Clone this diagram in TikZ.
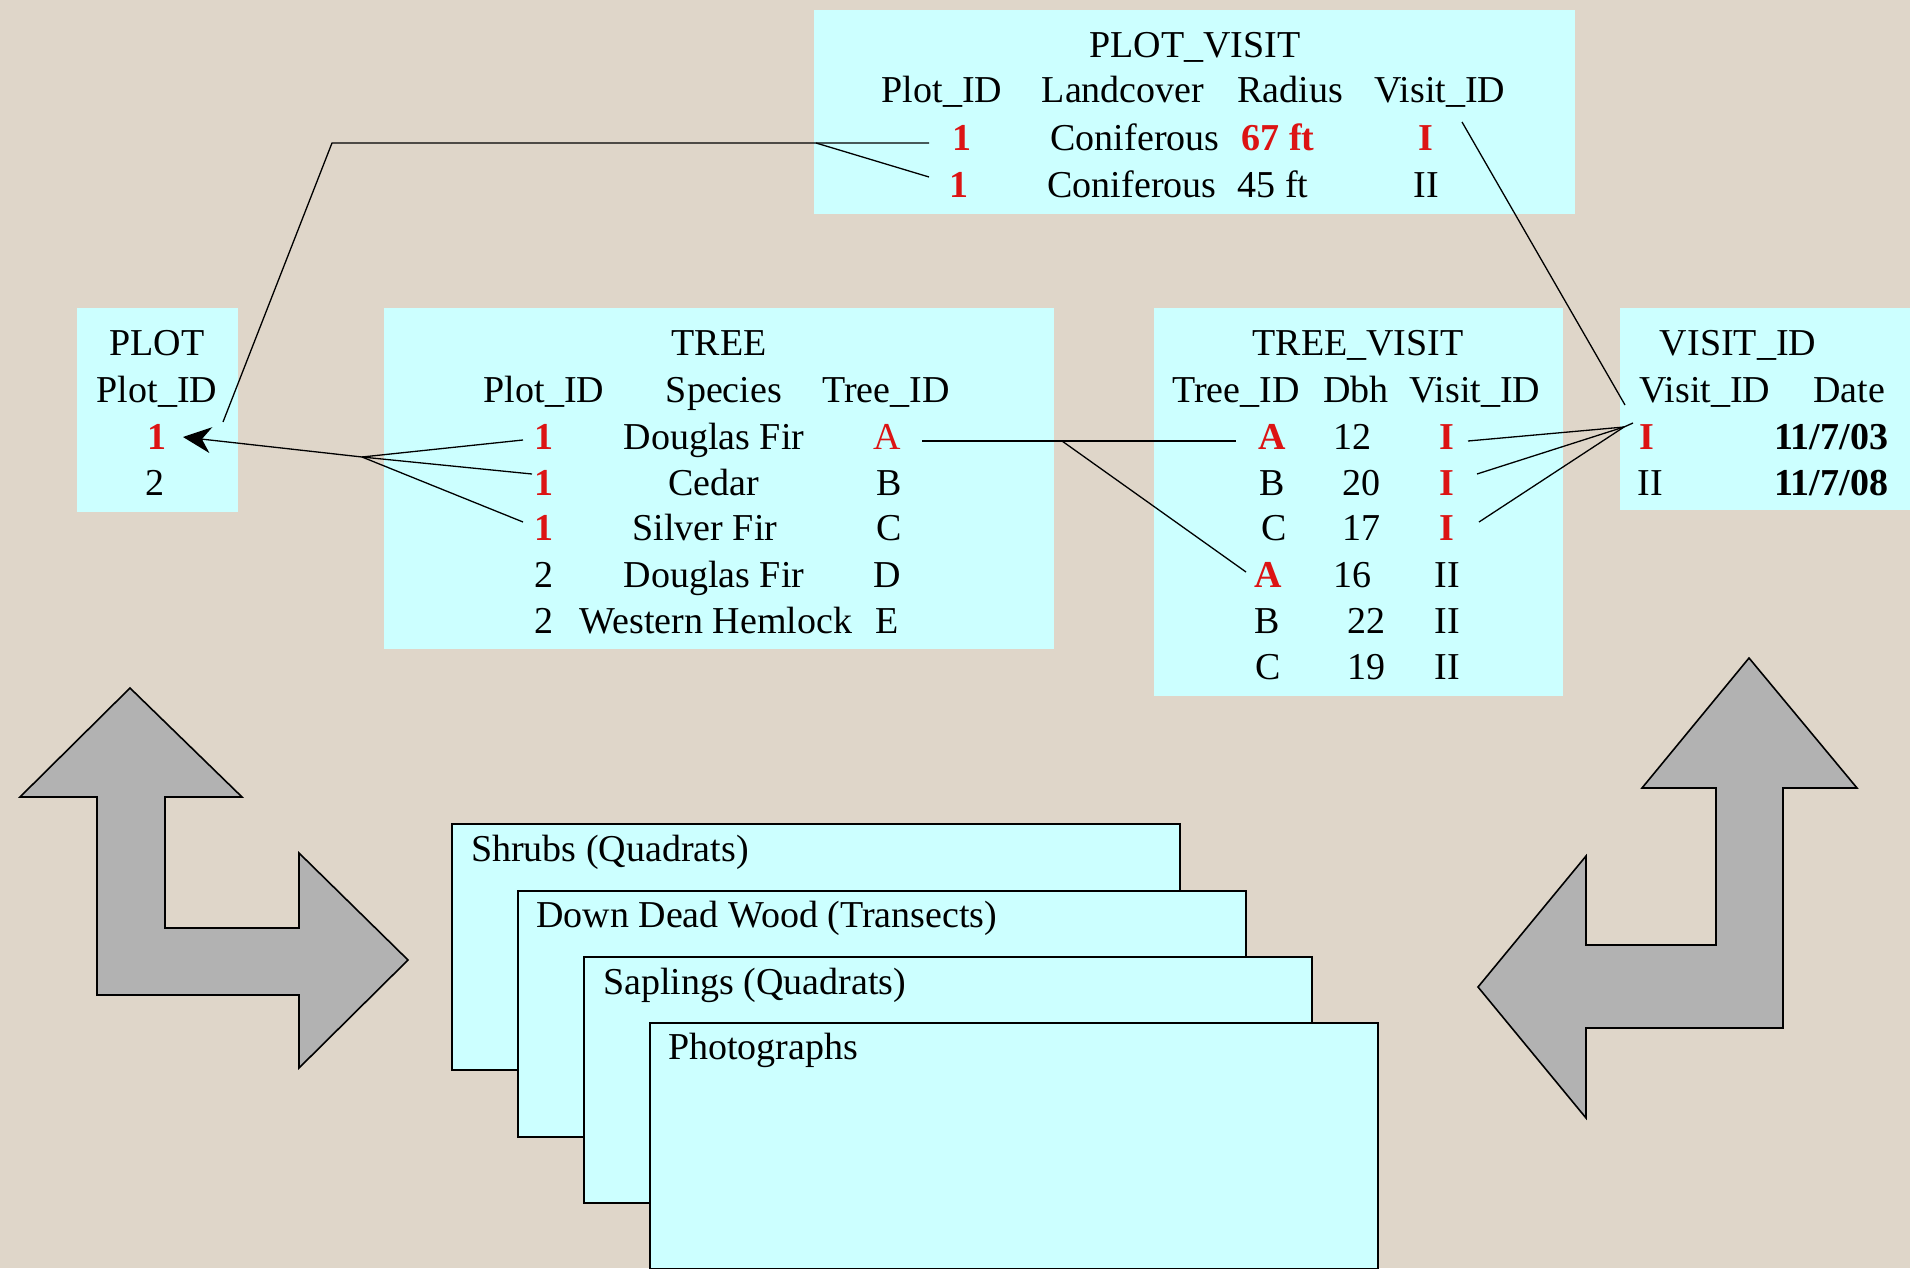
\documentclass[tikz,border=0pt]{standalone}
\usepackage{fontspec}
\setmainfont{Liberation Serif}
\usetikzlibrary{arrows.meta}
\definecolor{bgbeige}{RGB}{223,214,201}
\definecolor{cyanbox}{RGB}{204,255,255}
\definecolor{keyred}{RGB}{220,20,20}
\definecolor{arrowgray}{RGB}{178,178,178}
\begin{document}
\begin{tikzpicture}[x=1pt,y=-1pt,
  cell/.style={font=\fontsize{38}{44}\selectfont, inner sep=0pt, text height=26pt, text depth=0pt, anchor=center},
  key/.style={cell, text=keyred, font=\fontsize{38}{44}\selectfont\bfseries},
  keylight/.style={cell, text=keyred},
  boldcell/.style={cell, font=\fontsize{38}{44}\selectfont\bfseries},
  tbl/.style={fill=cyanbox, draw=none, inner sep=0pt, anchor=north west},
  stackbox/.style={fill=cyanbox, draw=black, line width=2pt, inner sep=0pt, anchor=north west, minimum width=728pt, minimum height=246pt},
  lbl/.style={cell, anchor=west},
  conn/.style={draw=black, line width=1.3pt},
  bigarrow/.style={fill=arrowgray, draw=black, line width=1.6pt, line join=miter}]

\useasboundingbox (0,0) rectangle (1910,1268);
\fill[bgbeige] (0,0) rectangle (1910,1268);

% table boxes
\node[tbl, minimum width=761pt, minimum height=204pt] (pvbox) at (814,10) {};
\node[tbl, minimum width=161pt, minimum height=204pt] (plbox) at (77,308) {};
\node[tbl, minimum width=670pt, minimum height=341pt] (trbox) at (384,308) {};
\node[tbl, minimum width=409pt, minimum height=388pt] (tvbox) at (1154,308) {};
\node[tbl, minimum width=295pt, minimum height=202pt] (vibox) at (1620,308) {};

% PLOT_VISIT
\node[cell] (pvt) at (1195,45) {PLOT\_VISIT};
\node[cell] (pvh1) at (942,90) {Plot\_ID};
\node[cell] (pvh2) at (1123,90) {Landcover};
\node[cell] (pvh3) at (1290,90) {Radius};
\node[cell] (pvh4) at (1440,90) {Visit\_ID};
\node[key] (pv11) at (962,138) {1};
\node[cell] (pv12) at (1135,138) {Coniferous};
\node[key] (pv13) at (1278,138) {67 ft};
\node[key] (pv14) at (1426,138) {I};
\node[key] (pv21) at (959,184) {1};
\node[cell] (pv22) at (1132,184) {Coniferous};
\node[cell] (pv23) at (1273,184) {45 ft};
\node[cell] (pv24) at (1426,184) {II};

% PLOT
\node[cell] (plt) at (157,342) {PLOT};
\node[cell] (plh) at (157,389) {Plot\_ID};
\node[key] (pl1) at (157,436) {1};
\node[cell] (pl2) at (155,482) {2};

% TREE
\node[cell] (trt) at (719,342) {TREE};
\node[cell] (trh1) at (544,389) {Plot\_ID};
\node[cell] (trh2) at (724,389) {Species};
\node[cell] (trh3) at (886,389) {Tree\_ID};
\node[key] (tr11) at (544,436) {1};
\node[cell] (tr12) at (714,436) {Douglas Fir};
\node[keylight] (tr1A) at (887,436) {A};
\node[key] (tr21) at (544,482) {1};
\node[cell] (tr22) at (714,482) {Cedar};
\node[cell] (tr23) at (889,482) {B};
\node[key] (tr31) at (544,527) {1};
\node[cell] (tr32) at (705,527) {Silver Fir};
\node[cell] (tr33) at (889,527) {C};
\node[cell] (tr41) at (544,574) {2};
\node[cell] (tr42) at (714,574) {Douglas Fir};
\node[cell] (tr43) at (887,574) {D};
\node[cell] (tr51) at (544,620) {2};
\node[cell] (tr52) at (716,620) {Western Hemlock};
\node[cell] (tr53) at (887,620) {E};

% TREE_VISIT
\node[cell] (tvt) at (1358,342) {TREE\_VISIT};
\node[cell] (tvh1) at (1236,389) {Tree\_ID};
\node[cell] (tvh2) at (1356,389) {Dbh};
\node[cell] (tvh3) at (1475,389) {Visit\_ID};
\node[key] (tv1A) at (1272,436) {A};
\node[cell] (tv12) at (1352,436) {12};
\node[key] (tv1I) at (1447,436) {I};
\node[cell] (tv21) at (1272,482) {B};
\node[cell] (tv22) at (1361,482) {20};
\node[key] (tv2I) at (1447,482) {I};
\node[cell] (tv31) at (1274,527) {C};
\node[cell] (tv32) at (1361,527) {17};
\node[key] (tv3I) at (1447,527) {I};
\node[key] (tv4A) at (1268,574) {A};
\node[cell] (tv42) at (1352,574) {16};
\node[cell] (tv43) at (1447,574) {II};
\node[cell] (tv51) at (1267,620) {B};
\node[cell] (tv52) at (1366,620) {22};
\node[cell] (tv53) at (1447,620) {II};
\node[cell] (tv61) at (1268,666) {C};
\node[cell] (tv62) at (1366,666) {19};
\node[cell] (tv63) at (1447,666) {II};

% VISIT_ID
\node[cell] (vit) at (1738,342) {VISIT\_ID};
\node[cell] (vih1) at (1705,389) {Visit\_ID};
\node[cell] (vih2) at (1849,389) {Date};
\node[key] (vi1) at (1647,436) {I};
\node[boldcell] (vid1) at (1831,436) {11/7/03};
\node[cell] (vi2) at (1650,482) {II};
\node[boldcell] (vid2) at (1831,482) {11/7/08};

% connectors
\coordinate (f1) at (816,143);
\coordinate (k1) at (332,143);
\draw[conn] ([shift={(-33,5)}]pv11.center) -- (f1) -- (k1) -- ([shift={(66,-14)}]pl1.center);
\draw[conn] ([shift={(-30,-7)}]pv21.center) -- (f1);

\coordinate (f2) at (362,457);
\draw[conn] ([shift={(-21,4)}]tr11.center) -- (f2);
\draw[conn] ([shift={(-12,-8)}]tr21.center) -- (f2);
\draw[conn] ([shift={(-21,-5)}]tr31.center) -- (f2);
\draw[conn,-{Stealth[length=28pt,width=26pt,inset=9pt]}] (f2) -- ([shift={(26,1)}]pl1.center);

\coordinate (f3) at (1062,441);
\draw[conn] ([shift={(35,5)}]tr1A.center) -- (f3) -- ([shift={(-36,5)}]tv1A.center);
\draw[conn] (f3) -- ([shift={(-22,-2)}]tv4A.center);

\draw[conn] ([shift={(36,-16)}]pv14.center) -- ([shift={(-22,-31)}]vi1.center);

\coordinate (f4) at (1624,427);
\draw[conn] ([shift={(-14,-13)}]vi1.center) -- (f4);
\draw[conn] ([shift={(21,5)}]tv1I.center) -- (f4);
\draw[conn] ([shift={(30,-8)}]tv2I.center) -- (f4);
\draw[conn] ([shift={(32,-5)}]tv3I.center) -- (f4);

% big gray arrows
\draw[bigarrow] (130,688) -- (242,797) -- (165,797) -- (165,928) -- (299,928) -- (299,853) -- (408,960) -- (299,1068) -- (299,995) -- (97,995) -- (97,797) -- (20,797) -- cycle;
\draw[bigarrow] (1749,658) -- (1857,788) -- (1783,788) -- (1783,1028) -- (1586,1028) -- (1586,1118) -- (1478,987) -- (1586,856) -- (1586,945) -- (1716,945) -- (1716,788) -- (1642,788) -- cycle;

% stacked boxes
\node[stackbox] (sb1) at (451,823) {};
\node[lbl] (sl1) at ([shift={(20,25)}]sb1.north west) {Shrubs (Quadrats)};
\node[stackbox] (sb2) at (517,890) {};
\node[lbl] (sl2) at ([shift={(19,24)}]sb2.north west) {Down Dead Wood (Transects)};
\node[stackbox] (sb3) at (583,956) {};
\node[lbl] (sl3) at ([shift={(20,25)}]sb3.north west) {Saplings (Quadrats)};
\node[stackbox] (sb4) at (649,1022) {};
\node[lbl] (sl4) at ([shift={(19,24)}]sb4.north west) {Photographs};
\end{tikzpicture}
\end{document}
